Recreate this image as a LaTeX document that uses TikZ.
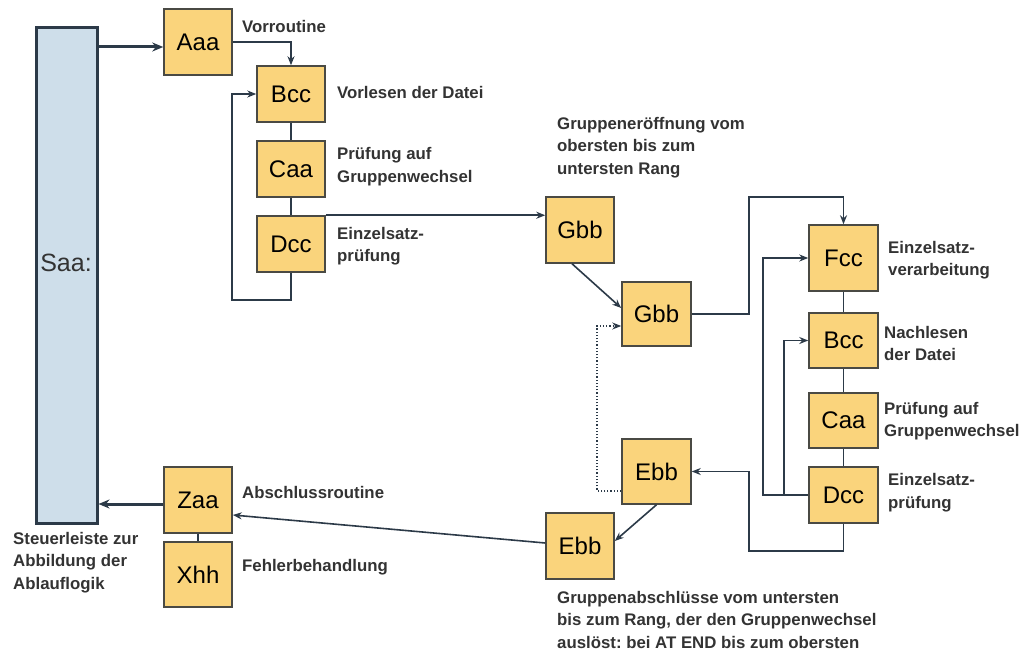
\documentclass[tikz,border=0pt]{standalone}
\usepackage{fontspec}
\setmainfont{Liberation Sans}
\usetikzlibrary{arrows.meta}
\frenchspacing
\definecolor{boxfill}{HTML}{FAD47C}
\definecolor{boxline}{HTML}{4A4A44}
\definecolor{barfill}{HTML}{CEDEEA}
\definecolor{ink}{HTML}{2C3A48}
\definecolor{txt}{HTML}{333333}
\begin{document}
\begin{tikzpicture}[x=1pt,y=-1pt,
  box/.style={draw=boxline,line width=1.5pt,fill=boxfill,inner sep=0pt,
    font=\fontsize{24}{28}\selectfont,text=black},
  lbl/.style={anchor=west,align=left,inner sep=0pt,text=txt,
    font=\fontsize{16.8}{22.5}\selectfont\bfseries},
  conn/.style={draw=ink,line width=1.6pt},
  arr/.style={conn,-{Stealth[length=9pt,width=7pt]}},
  dotarr/.style={draw=ink,line width=1.2pt,dotted,-{Stealth[length=9pt,width=7pt]}},
  bigarr/.style={draw=ink,line width=3pt,-{Stealth[length=11pt,width=9pt]}}]
\useasboundingbox (0,0) rectangle (1031,650);

% control bar
\node[draw=ink,line width=3pt,fill=barfill,minimum width=61pt,minimum height=495pt,inner sep=0pt] (saa) at (66.5,275.5) {};
\node[font=\fontsize{25}{28}\selectfont,text=txt] (saalbl) at (66,263) {Saa:};

% left column
\node[box,minimum width=68pt,minimum height=66pt] (aaa) at (198,42) {Aaa};
\node[box,minimum width=68pt,minimum height=56pt] (bcc) at (291,94) {Bcc};
\node[box,minimum width=68pt,minimum height=56pt] (caa) at (291,169) {Caa};
\node[box,minimum width=68pt,minimum height=56pt] (dcc) at (291,244) {Dcc};
\node[box,minimum width=68pt,minimum height=66pt] (zaa) at (198,500) {Zaa};
\node[box,minimum width=68pt,minimum height=65pt] (xhh) at (198,574.5) {Xhh};

% group boxes
\node[box,minimum width=68pt,minimum height=66pt] (gbb1) at (580,230) {Gbb};
\node[box,minimum width=69pt,minimum height=64pt] (gbb2) at (656.5,314) {Gbb};
\node[box,minimum width=69pt,minimum height=65pt] (ebb1) at (656.5,471.5) {Ebb};
\node[box,minimum width=68pt,minimum height=66pt] (ebb2) at (580,546) {Ebb};

% right column
\node[box,minimum width=69pt,minimum height=66pt] (fcc) at (843.5,258) {Fcc};
\node[box,minimum width=69pt,minimum height=55pt] (bcc2) at (843.5,340.5) {Bcc};
\node[box,minimum width=69pt,minimum height=55pt] (caa2) at (843.5,420.5) {Caa};
\node[box,minimum width=69pt,minimum height=56pt] (dcc2) at (843.5,495) {Dcc};

% labels
\node[lbl] (l1) at (242,26) {Vorroutine};
\node[lbl] (l2) at (337,92) {Vorlesen der Datei};
\node[lbl] (l3) at (337,166.5) {Prüfung auf\\Gruppenwechsel};
\node[lbl] (l4) at (337,246) {Einzelsatz-\\prüfung};
\node[lbl] (l5) at (557,147.5) {Gruppeneröffnung vom\\obersten bis zum\\untersten Rang};
\node[lbl] (l6) at (888,260) {Einzelsatz-\\verarbeitung};
\node[lbl] (l7) at (884,343.5) {Nachlesen\\der Datei};
\node[lbl] (l8) at (884,421) {Prüfung auf\\Gruppenwechsel};
\node[lbl] (l9) at (888,492.5) {Einzelsatz-\\prüfung};
\node[lbl] (l10) at (557,619.5) {Gruppenabschlüsse vom untersten\\bis zum Rang, der den Gruppenwechsel\\auslöst: bei AT END bis zum obersten};
\node[lbl] (l11) at (13,562.5) {Steuerleiste zur\\Abbildung der\\Ablauflogik};
\node[lbl] (l12) at (242,492) {Abschlussroutine};
\node[lbl] (l13) at (242,567) {Fehlerbehandlung};

% turning points
\coordinate (p1) at (232,300);
\coordinate (p2) at (749,197);
\coordinate (p3) at (763,495);
\coordinate (p4) at (784,495);
\coordinate (p5) at (749,551);
\coordinate (p6) at (597,491);

% connectors
\draw[bigarr] ([yshift=-5pt]aaa.west -| saa.east) -- ([yshift=-5pt]aaa.west);
\draw[arr] (aaa.east) -| (bcc.north);
\draw[conn] (bcc.south) -- (caa.north);
\draw[conn] (caa.south) -- (dcc.north);
\draw[arr] (dcc.south) |- (p1) |- (bcc.west);
\draw[arr] (dcc.north east) -- (dcc.north east -| gbb1.west);
\draw[arr] ([xshift=-8pt]gbb1.south) -- ([yshift=6pt]gbb2.west);
\draw[arr] (gbb2.east) -| (p2) -| (fcc.north);
\draw[conn] (fcc.south) -- (bcc2.north);
\draw[conn] (bcc2.south) -- (caa2.north);
\draw[conn] (caa2.south) -- (dcc2.north);
\draw[arr] (dcc2.west) -- (p3) |- (fcc.west);
\draw[arr] (p4) |- (bcc2.west);
\draw[arr] (dcc2.south) |- (p5) |- (ebb1.east);
\draw[dotarr] ([yshift=-19.5pt]ebb1.west) -- (p6) |- ([yshift=-12pt]gbb2.west);
\draw[arr] (ebb1.south) -- ([yshift=5pt]ebb2.east);
\draw[arr] ([yshift=3pt]ebb2.west) -- ([yshift=-15pt]zaa.east);
\draw[bigarr] ([yshift=-4pt]zaa.west) -- ([yshift=-4pt]zaa.west -| saa.east);
\draw[conn] (zaa.south) -- (xhh.north);
\end{tikzpicture}
\end{document}
